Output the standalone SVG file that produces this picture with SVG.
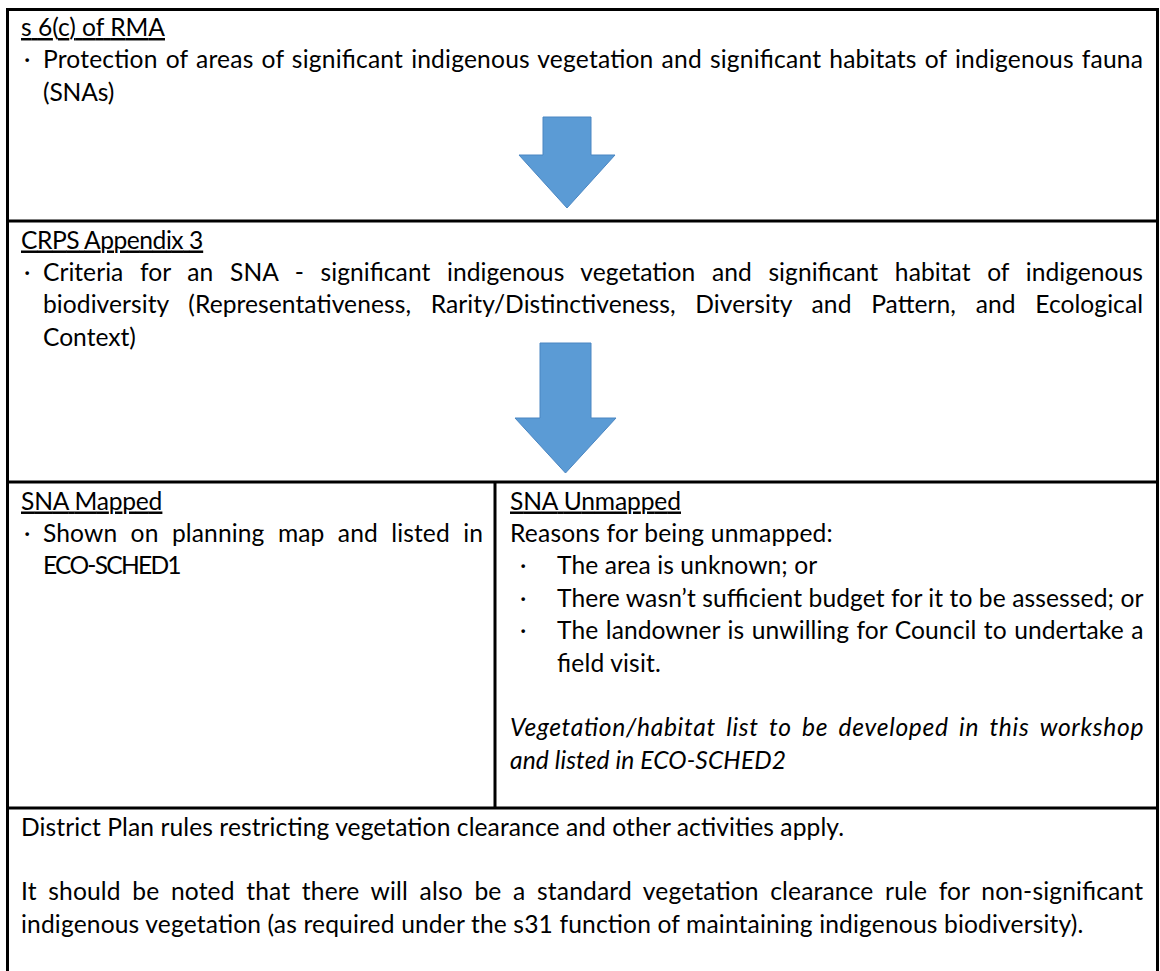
<svg xmlns="http://www.w3.org/2000/svg" width="1160" height="971" viewBox="0 0 1160 971">
  <style>
    .t { font-family: Lato, "Liberation Sans", sans-serif; font-size: 24.6px; fill: #000; }
    .u { text-decoration: underline; }
    .i { font-style: italic; }
    .grid { stroke: #000; stroke-width: 3; fill: none; }
    .arrow { fill: #5B9BD5; stroke: #4A86C2; stroke-width: 1; }
  </style>

  <rect width="1160" height="971" fill="#fff"/>

  <!-- table rules -->
  <g id="table-grid" class="grid">
    <line x1="7.5" y1="8" x2="7.5" y2="971"/>
    <line x1="1157.5" y1="8" x2="1157.5" y2="971"/>
    <line x1="6" y1="9.5" x2="1159" y2="9.5"/>
    <line x1="6" y1="221" x2="1159" y2="221"/>
    <line x1="6" y1="482" x2="1159" y2="482"/>
    <line x1="495" y1="482" x2="495" y2="808"/>
    <line x1="6" y1="808" x2="1159" y2="808"/>
  </g>

  <!-- block arrows between the rows -->
  <g id="connectors">
    <path class="arrow" d="M543,117 H591 V155 H615 L567,208 L519,155 H543 Z"/>
    <path class="arrow" d="M540,343 H591 V418 H616 L565.5,473 L515,418 H540 Z"/>
  </g>

  <g id="rma-s6c" class="t">
    <text class="u" x="21" y="36" textLength="144" lengthAdjust="spacing">s 6(c) of RMA</text>
    <text x="24" y="68.4">·</text>
    <text x="43" y="68.4" textLength="1100" lengthAdjust="spacing" style="word-spacing:1.6px">Protection of areas of significant indigenous vegetation and significant habitats of indigenous fauna</text>
    <text x="43" y="100.8" textLength="71.3" lengthAdjust="spacing">(SNAs)</text>
  </g>

  <g id="crps-appendix3" class="t">
    <text class="u" x="21" y="248.5" textLength="182.2" lengthAdjust="spacing">CRPS Appendix 3</text>
    <text x="24" y="280.9">·</text>
    <text x="43" y="280.9" textLength="1100" lengthAdjust="spacing" style="word-spacing:10.3px">Criteria for an SNA - significant indigenous vegetation and significant habitat of indigenous</text>
    <text x="43" y="313.3" textLength="1100" lengthAdjust="spacing" style="word-spacing:13.3px">biodiversity (Representativeness, Rarity/Distinctiveness, Diversity and Pattern, and Ecological</text>
    <text x="43" y="345.7" textLength="92.8" lengthAdjust="spacing">Context)</text>
  </g>

  <g id="sna-mapped" class="t">
    <text class="u" x="21" y="509.5" textLength="141.4" lengthAdjust="spacing">SNA Mapped</text>
    <text x="24" y="541.9">·</text>
    <text x="43" y="541.9" textLength="440" lengthAdjust="spacing" style="word-spacing:7px">Shown on planning map and listed in</text>
    <text x="43" y="574.3" textLength="138.6" lengthAdjust="spacing">ECO-SCHED1</text>
  </g>

  <g id="sna-unmapped" class="t">
    <text class="u" x="510" y="509.5" textLength="171" lengthAdjust="spacing">SNA Unmapped</text>
    <text x="510" y="541.9" textLength="322.7" lengthAdjust="spacing">Reasons for being unmapped:</text>
    <text x="520" y="574.3">·</text>
    <text x="557" y="574.3" textLength="260.2" lengthAdjust="spacing">The area is unknown; or</text>
    <text x="520" y="606.7">·</text>
    <text x="557" y="606.7" textLength="586.4" lengthAdjust="spacing">There wasn’t sufficient budget for it to be assessed; or</text>
    <text x="520" y="639.1">·</text>
    <text x="557" y="639.1" textLength="586.5" lengthAdjust="spacing" style="word-spacing:1.2px">The landowner is unwilling for Council to undertake a</text>
    <text x="557" y="671.5" textLength="103.8" lengthAdjust="spacing">field visit.</text>
    <text class="i" x="510" y="736.3" textLength="633.5" lengthAdjust="spacing" style="word-spacing:4px">Vegetation/habitat list to be developed in this workshop</text>
    <text class="i" x="510" y="768.7" textLength="276" lengthAdjust="spacing">and listed in ECO-SCHED2</text>
  </g>

  <g id="district-plan-rules" class="t">
    <text x="21" y="835.5" textLength="823" lengthAdjust="spacing">District Plan rules restricting vegetation clearance and other activities apply.</text>
    <text x="21" y="900.3" textLength="1122" lengthAdjust="spacing" style="word-spacing:5.2px">It should be noted that there will also be a standard vegetation clearance rule for non-significant</text>
    <text x="21" y="932.7" textLength="1062.4" lengthAdjust="spacing">indigenous vegetation (as required under the s31 function of maintaining indigenous biodiversity).</text>
  </g>
</svg>
